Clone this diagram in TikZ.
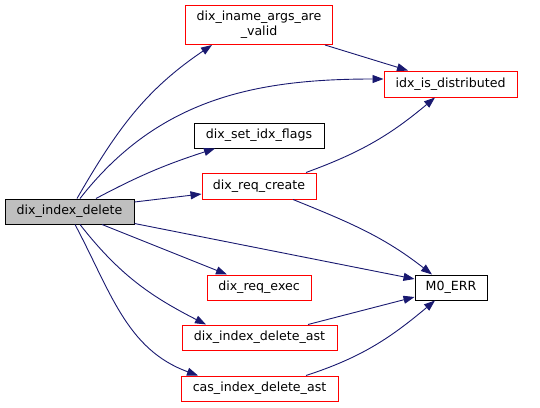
\documentclass[tikz,border=0pt]{standalone}
\usepackage{fontspec}
\setmainfont{DejaVu Sans}
\usetikzlibrary{arrows.meta}
\begin{document}
\begin{tikzpicture}[x=1pt,y=-1pt,font=\fontsize{12.6}{14}\selectfont]
\definecolor{cedge}{HTML}{191970}\definecolor{cred}{HTML}{FF0000}
\definecolor{cgrey}{HTML}{BFBFBF}
\tikzset{fn/.style={draw=black,line width=1pt,fill=white,minimum height=25pt,inner sep=2pt,align=center},
 fnred/.style={fn,draw=cred},
 call/.style={draw=cedge,line width=0.9pt,-{Triangle[length=11pt,width=8pt]}}}
\useasboundingbox (0,0) rectangle (540,407);
\node[fn,fill=cgrey,minimum width=129pt] (src) at (69.5,211.5) {dix\_index\_delete};
\node[fnred,minimum width=147pt,minimum height=39pt,draw=cred] (iname) at (259,25) {dix\_iname\_args\_are\\[1pt]\_valid};
\node[fnred,minimum width=133pt,minimum height=26pt] (idxdist) at (450.5,84) {idx\_is\_distributed};
\node[fn,minimum width=130pt] (setflags) at (259,135.5) {dix\_set\_idx\_flags};
\node[fnred,minimum width=114pt,minimum height=26pt] (reqcreate) at (259,186) {dix\_req\_create};
\node[fn,minimum width=72pt] (mzeroerr) at (451,287.5) {M0\_ERR};
\node[fnred,minimum width=104pt] (reqexec) at (259,287.5) {dix\_req\_exec};
\node[fnred,minimum width=155pt] (delast) at (259.5,337.5) {dix\_index\_delete\_ast};
\node[fnred,minimum width=157pt] (casast) at (259.5,388.5) {cas\_index\_delete\_ast};
% calls of dix_index_delete
\draw[call] ([xshift=7.5pt]src.north) to[out=60,in=214] ([xshift=-47pt]iname.south);
\draw[call] ([xshift=10.5pt]src.north) to[out=52,in=180] ([yshift=5pt]idxdist.west);
\draw[call] ([xshift=26.5pt]src.north) to[out=28,in=198] ([xshift=-44pt]setflags.south);
\draw[call] ([yshift=9.5pt]src.east) -- ([yshift=-8pt]reqcreate.west);
\draw[call] ([yshift=1pt]src.south east) -- ([yshift=8.5pt]mzeroerr.west);
\draw[call] ([xshift=32.5pt]src.south) -- ([xshift=-32pt]reqexec.north);
\draw[call] ([xshift=10.5pt]src.south) to[out=-52,in=153] ([xshift=-53.5pt]delast.north);
\draw[call] ([xshift=5.5pt]src.south) to[out=-62,in=160] ([xshift=-61.5pt]casast.north);
% further calls
\draw[call] ([xshift=66pt]iname.south) -- ([xshift=-42.5pt]idxdist.north);
\draw[call] ([xshift=47pt]reqcreate.north) to[out=20,in=220] ([xshift=-15.5pt]idxdist.south);
\draw[call] ([xshift=34pt]reqcreate.south) to[out=-22,in=142] ([xshift=-19pt]mzeroerr.north);
\draw[call] ([xshift=48.5pt]delast.north) -- ([yshift=-9.5pt]mzeroerr.west);
\draw[call] ([xshift=46.5pt]casast.north) to[out=18,in=220] ([xshift=-16pt]mzeroerr.south);
\end{tikzpicture}
\end{document}
